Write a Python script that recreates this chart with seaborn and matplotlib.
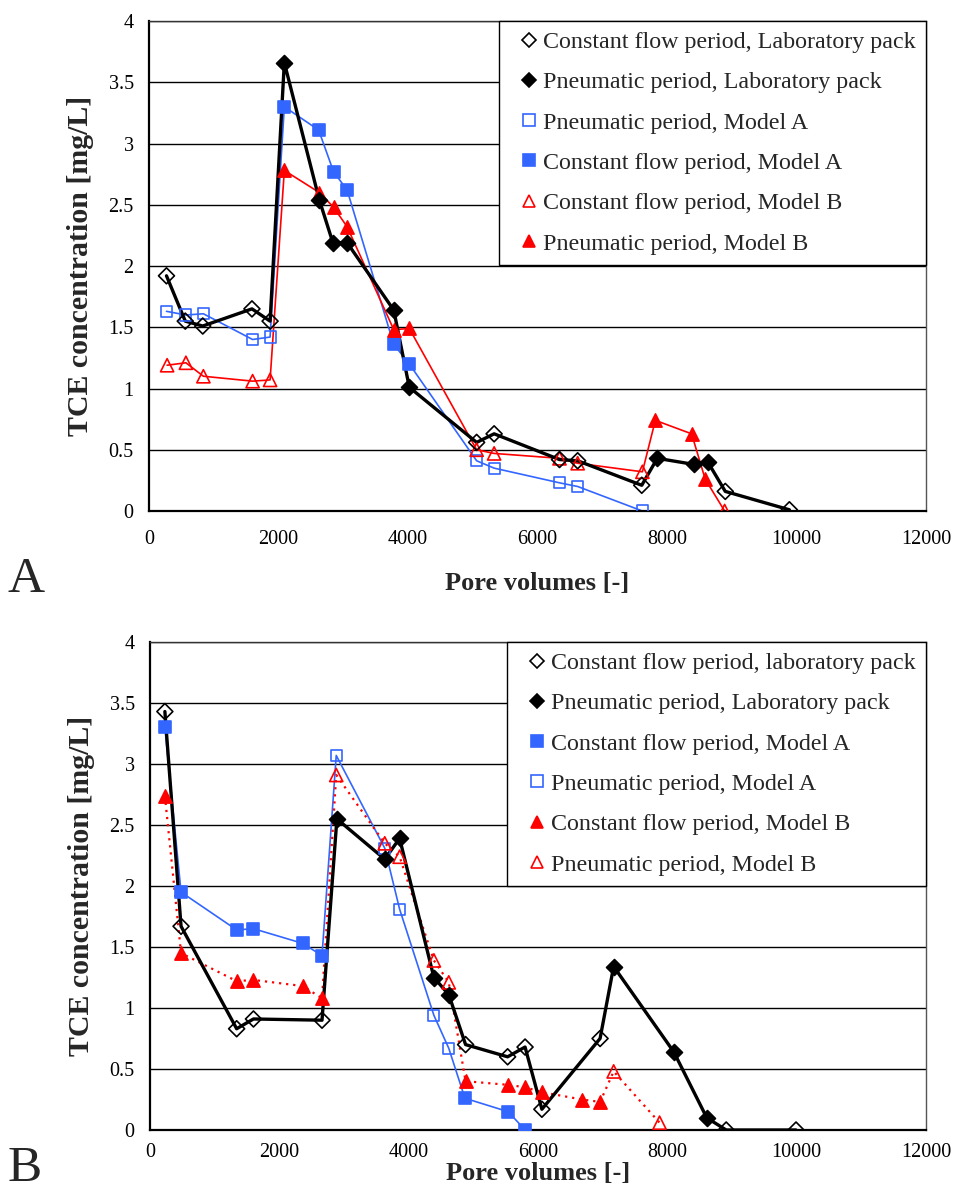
import numpy as np
import pandas as pd
import matplotlib
matplotlib.use("Agg")
import matplotlib.pyplot as plt
from matplotlib.lines import Line2D
import seaborn as sns

# ---------------- DATA ----------------
# Panel A
A_lab_cf_x = [270, 560, 830, 1590, 1870, 5060, 5330, 6340, 6620, 7610, 8900, 9890]
A_lab_cf_y = [1.92, 1.55, 1.51, 1.65, 1.55, 0.56, 0.63, 0.42, 0.41, 0.21, 0.16, 0.01]
A_lab_pn_x = [2090, 2630, 2840, 3060, 3780, 4020, 7850, 8420, 8630]
A_lab_pn_y = [3.66, 2.54, 2.19, 2.19, 1.64, 1.01, 0.43, 0.38, 0.40]
A_mA_open_x = [270, 570, 840, 1600, 1870, 5060, 5330, 6340, 6620, 7620]
A_mA_open_y = [1.63, 1.60, 1.61, 1.40, 1.42, 0.41, 0.35, 0.23, 0.20, 0.00]
A_mA_fill_x = [2090, 2620, 2850, 3060, 3780, 4020]
A_mA_fill_y = [3.30, 3.11, 2.77, 2.62, 1.36, 1.20]
A_mB_open_x = [280, 570, 840, 1600, 1870, 5060, 5330, 6340, 6620, 7620, 8890]
A_mB_open_y = [1.19, 1.21, 1.10, 1.06, 1.07, 0.50, 0.47, 0.43, 0.39, 0.32, 0.00]
A_mB_fill_x = [2090, 2630, 2850, 3060, 3780, 4020, 7820, 8380, 8590]
A_mB_fill_y = [2.78, 2.60, 2.48, 2.32, 1.48, 1.49, 0.74, 0.63, 0.26]

A_labels = ["Constant flow period, Laboratory pack",
            "Pneumatic period, Laboratory pack",
            "Pneumatic period, Model A",
            "Constant flow period, Model A",
            "Constant flow period, Model B",
            "Pneumatic period, Model B"]

# Panel B
B_lab_cf_x = [230, 480, 1340, 1600, 2660, 4880, 5530, 5800, 6060, 6960, 8910, 9990]
B_lab_cf_y = [3.43, 1.67, 0.83, 0.91, 0.90, 0.70, 0.60, 0.68, 0.17, 0.75, 0.00, 0.00]
B_lab_pn_x = [2890, 3630, 3860, 4390, 4620, 7170, 8100, 8610]
B_lab_pn_y = [2.55, 2.22, 2.39, 1.25, 1.11, 1.34, 0.64, 0.10]
B_mA_fill_x = [230, 480, 1340, 1600, 2360, 2660, 4870, 5540, 5800]
B_mA_fill_y = [3.30, 1.95, 1.64, 1.65, 1.53, 1.43, 0.26, 0.15, 0.00]
B_mA_open_x = [2880, 3630, 3860, 4390, 4620]
B_mA_open_y = [3.07, 2.31, 1.81, 0.94, 0.67]
B_mB_fill_x = [230, 480, 1340, 1600, 2360, 2660, 4880, 5540, 5800, 6060, 6680, 6960]
B_mB_fill_y = [2.74, 1.45, 1.22, 1.23, 1.18, 1.08, 0.40, 0.37, 0.35, 0.31, 0.25, 0.23]
B_mB_open_x = [2880, 3630, 3860, 4390, 4620, 7170, 7880]
B_mB_open_y = [2.91, 2.35, 2.24, 1.39, 1.21, 0.48, 0.06]

B_labels = ["Constant flow period, laboratory pack",
            "Pneumatic period, Laboratory pack",
            "Constant flow period, Model A",
            "Pneumatic period, Model A",
            "Constant flow period, Model B",
            "Pneumatic period, Model B"]

x_ticks = [0, 2000, 4000, 6000, 8000, 10000, 12000]
y_ticks = [0, 0.5, 1, 1.5, 2, 2.5, 3, 3.5, 4]
y_ticklabels = ["0", "0.5", "1", "1.5", "2", "2.5", "3", "3.5", "4"]

# ---------------- STYLE ----------------
sns.set_style("white")
plt.rcParams["font.family"] = ["Liberation Serif", "DejaVu Serif"]

BLUE = "#3366FF"
RED = "#FF0000"
BLACK = "#000000"

fig = plt.figure(figsize=(9.54, 11.98), dpi=100)
ax1 = fig.add_axes([149 / 954, 1 - 511 / 1198, 777 / 954, 490 / 1198])
ax2 = fig.add_axes([150 / 954, 1 - 1130 / 1198, 776 / 954, 488 / 1198])


def joined(x1, y1, x2, y2):
    df = pd.DataFrame({"pv": list(x1) + list(x2), "c": list(y1) + list(y2)})
    return df.sort_values("pv").reset_index(drop=True)


def draw_line(ax, df, color, lw, ls="-"):
    sns.lineplot(data=df, x="pv", y="c", sort=False, estimator=None,
                 color=color, linewidth=lw, linestyle=ls, ax=ax, legend=False,
                 zorder=2)


def draw_marks(ax, x, y, marker, color, filled, s):
    sns.scatterplot(x=x, y=y, marker=marker, s=s, ax=ax, legend=False,
                    color=color,
                    facecolor=(color if filled else "none"),
                    edgecolor=color, linewidth=1.2, zorder=3)


MS = {"D": 66, "s": 64, "^": 90}


def style_axes(ax, xlabel_y, xpad):
    ax.set_xlim(0, 12000)
    ax.set_ylim(0, 4)
    ax.set_xticks(x_ticks)
    ax.set_xticklabels([str(t) for t in x_ticks])
    ax.set_yticks(y_ticks)
    ax.set_yticklabels(y_ticklabels)
    ax.tick_params(axis="both", direction="out", length=5, width=1.3,
                   labelsize=14.5, color="black", labelcolor="black")
    ax.tick_params(axis="x", pad=xpad)
    ax.tick_params(axis="y", pad=6)
    ax.yaxis.grid(True, color="black", linewidth=1.0)
    ax.xaxis.grid(False)
    ax.set_axisbelow(True)
    for side in ["left", "bottom"]:
        ax.spines[side].set_color("black")
        ax.spines[side].set_linewidth(1.6)
    ax.spines["top"].set_color("#333333")
    ax.spines["top"].set_linewidth(1.0)
    ax.spines["right"].set_color("#555555")
    ax.spines["right"].set_linewidth(1.0)
    ax.set_xlabel("Pore volumes [-]", fontsize=19, fontweight="bold")
    ax.set_ylabel("TCE concentration [mg/L]", fontsize=21.5, fontweight="bold")
    ax.xaxis.set_label_coords(0.5, xlabel_y)
    ax.yaxis.set_label_coords(-0.071, 0.5)


def legend_handle(marker, color, filled, ms):
    return Line2D([], [], marker=marker, linestyle="none", markersize=ms,
                  markerfacecolor=(color if filled else "none"),
                  markeredgecolor=color, markeredgewidth=1.2)


def add_legend(ax, handles, labels):
    leg = ax.legend(handles, labels, loc="upper right", bbox_to_anchor=(1, 1),
                    borderaxespad=0, frameon=True, fancybox=False,
                    edgecolor="black", framealpha=1, fontsize=17.3,
                    handlelength=1.6, handletextpad=-0.2, labelspacing=0.77,
                    borderpad=0.42)
    leg.get_frame().set_linewidth(1.0)
    leg.set_zorder(5)


# ---------------- PANEL A ----------------
draw_line(ax1, joined(A_mA_open_x, A_mA_open_y, A_mA_fill_x, A_mA_fill_y), BLUE, 1.2)
draw_line(ax1, joined(A_mB_open_x, A_mB_open_y, A_mB_fill_x, A_mB_fill_y), RED, 1.2)
draw_line(ax1, joined(A_lab_cf_x, A_lab_cf_y, A_lab_pn_x, A_lab_pn_y), BLACK, 2.4)
draw_marks(ax1, A_mA_open_x, A_mA_open_y, "s", BLUE, False, MS["s"])
draw_marks(ax1, A_mA_fill_x, A_mA_fill_y, "s", BLUE, True, MS["s"])
draw_marks(ax1, A_mB_open_x, A_mB_open_y, "^", RED, False, MS["^"])
draw_marks(ax1, A_mB_fill_x, A_mB_fill_y, "^", RED, True, MS["^"])
draw_marks(ax1, A_lab_cf_x, A_lab_cf_y, "D", BLACK, False, MS["D"])
draw_marks(ax1, A_lab_pn_x, A_lab_pn_y, "D", BLACK, True, MS["D"])
style_axes(ax1, -0.125, 9)
add_legend(ax1, [legend_handle("D", BLACK, False, 7.5),
                 legend_handle("D", BLACK, True, 7.5),
                 legend_handle("s", BLUE, False, 8.5),
                 legend_handle("s", BLUE, True, 8.5),
                 legend_handle("^", RED, False, 9),
                 legend_handle("^", RED, True, 9)], A_labels)

# ---------------- PANEL B ----------------
draw_line(ax2, joined(B_mA_fill_x, B_mA_fill_y, B_mA_open_x, B_mA_open_y), BLUE, 1.2)
draw_line(ax2, joined(B_mB_fill_x, B_mB_fill_y, B_mB_open_x, B_mB_open_y), RED, 1.6, (0, (1, 2.2)))
draw_line(ax2, joined(B_lab_cf_x, B_lab_cf_y, B_lab_pn_x, B_lab_pn_y), BLACK, 2.4)
draw_marks(ax2, B_mA_fill_x, B_mA_fill_y, "s", BLUE, True, MS["s"])
draw_marks(ax2, B_mA_open_x, B_mA_open_y, "s", BLUE, False, MS["s"])
draw_marks(ax2, B_mB_fill_x, B_mB_fill_y, "^", RED, True, MS["^"])
draw_marks(ax2, B_mB_open_x, B_mB_open_y, "^", RED, False, MS["^"])
draw_marks(ax2, B_lab_cf_x, B_lab_cf_y, "D", BLACK, False, MS["D"])
draw_marks(ax2, B_lab_pn_x, B_lab_pn_y, "D", BLACK, True, MS["D"])
style_axes(ax2, -0.066, 4.5)
add_legend(ax2, [legend_handle("D", BLACK, False, 7.5),
                 legend_handle("D", BLACK, True, 7.5),
                 legend_handle("s", BLUE, True, 8.5),
                 legend_handle("s", BLUE, False, 8.5),
                 legend_handle("^", RED, True, 9),
                 legend_handle("^", RED, False, 9)], B_labels)

# panel letters
fig.text(8 / 954, 1 - 592 / 1198, "A", fontsize=37, ha="left", va="baseline")
fig.text(8 / 954, 1 - 1181 / 1198, "B", fontsize=37, ha="left", va="baseline")

fig.savefig("out.png", dpi=100, facecolor="white")
